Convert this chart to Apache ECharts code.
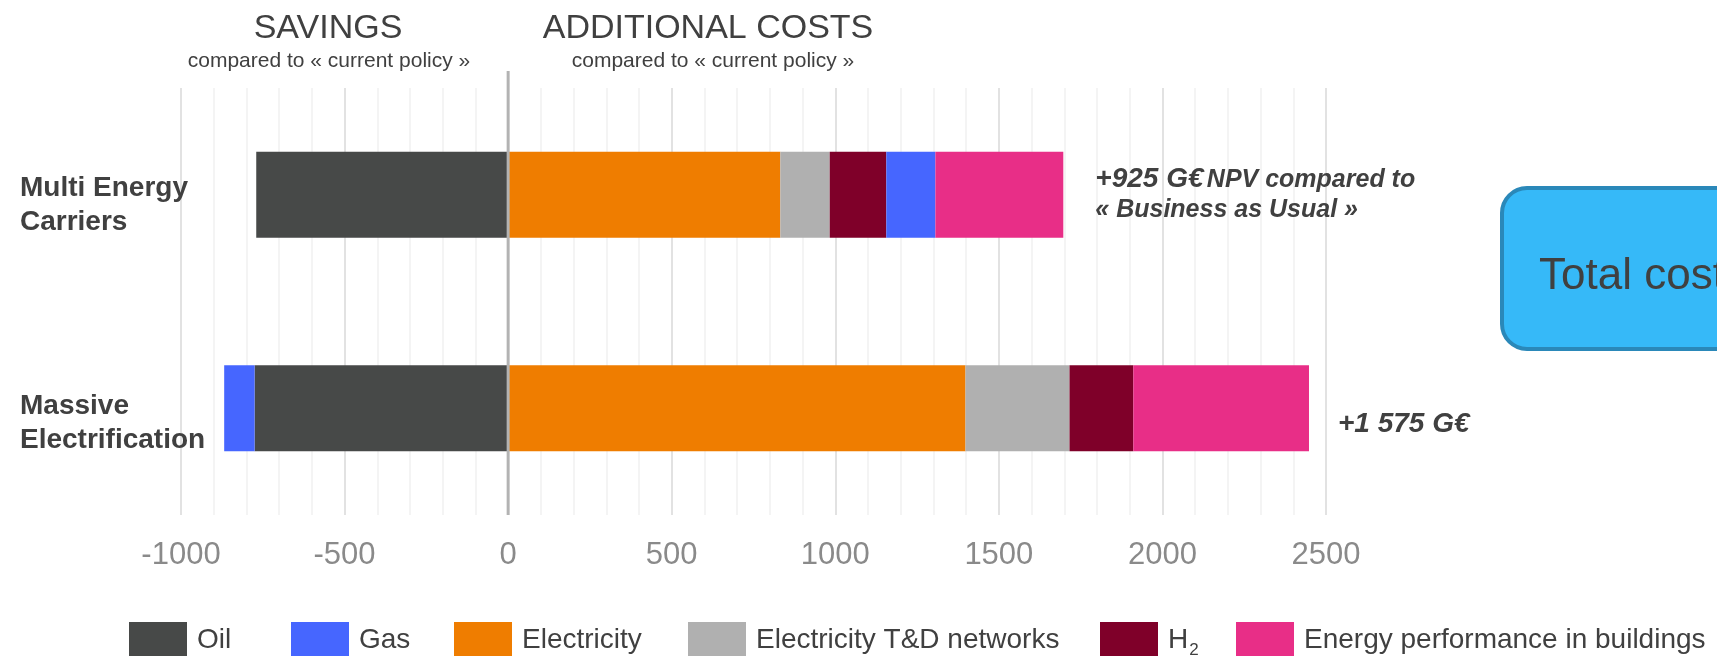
<!DOCTYPE html>
<html>
<head>
<meta charset="utf-8">
<script src="https://cdn.jsdelivr.net/npm/echarts@6/dist/echarts.min.js"></script>
<style>
html,body{margin:0;padding:0;background:#fff;}
#c{width:1717px;height:656px;}
</style>
</head>
<body>
<div id="c"></div>
<script>
// ---- data ----
const categories = ['Multi Energy\nCarriers', 'Massive\nElectrification'];
const oil = [-770, -775];
const gas = [150, -93];
const electricity = [832, 1398];
const tdNetworks = [151, 318];
const h2 = [173, 195];
const buildings = [391, 537];
const totals = ['+925 G€', '+1 575 G€'];
const totalNotes = ['NPV compared to', ''];
const totalNotes2 = ['« Business as Usual »', ''];
const xMin = -1000, xMax = 2500, xStep = 500;
const legendNames = ['Oil', 'Gas', 'Electricity', 'Electricity T&D networks', 'H2', 'Energy performance in buildings'];

const FONT = '"Liberation Sans", Arial, Helvetica, sans-serif';
const TXT = '#404040';
const colors = {
  'Oil': '#474948',
  'Gas': '#4666ff',
  'Electricity': '#ef7d00',
  'Electricity T&D networks': '#b0b0b0',
  'H2': '#7f0029',
  'Energy performance in buildings': '#e82e87'
};

const chart = echarts.init(document.getElementById('c'), null, {renderer: 'canvas'});

function bar(name, data, extra) {
  return Object.assign({
    name: name, type: 'bar', stack: 'total', barWidth: 86,
    itemStyle: {color: colors[name]},
    data: data, emphasis: {disabled: true}
  }, extra || {});
}

const legendLeft = [129, 291, 454, 688, 1100, 1236];
const legends = legendNames.map((n, i) => ({
  data: [n], left: legendLeft[i], top: 622, padding: 0, orient: 'horizontal',
  itemWidth: 58, itemHeight: 36, icon: 'rect', selectedMode: false,
  formatter: function (name) { return name === 'H2' ? '{h|H}{s|2}' : name; },
  textStyle: {
    fontFamily: FONT, fontSize: 28, color: TXT, padding: [0, 0, 0, 5],
    rich: {
      h: {fontFamily: FONT, fontSize: 28, color: TXT},
      s: {fontFamily: FONT, fontSize: 17, color: TXT, padding: [20, 0, 0, 1]}
    }
  }
}));

const option = {
  animation: false,
  backgroundColor: '#ffffff',
  textStyle: {fontFamily: FONT},
  grid: {left: 181, right: 391, top: 88, bottom: 141, containLabel: false},
  legend: legends,
  xAxis: {
    type: 'value', min: xMin, max: xMax, interval: xStep,
    axisLine: {show: false}, axisTick: {show: false},
    axisLabel: {fontFamily: FONT, fontSize: 31, color: '#8a8a8a', margin: 25,
      formatter: function (v) { return String(v); }},
    splitLine: {show: true, lineStyle: {color: '#e2e2e2', width: 2}},
    minorTick: {show: false, splitNumber: 5},
    minorSplitLine: {show: true, lineStyle: {color: '#f1f1f1', width: 1.5}}
  },
  yAxis: {
    type: 'category', data: categories, inverse: true,
    axisLine: {show: false}, axisTick: {show: false},
    axisLabel: {show: false}
  },
  series: [
    bar('Oil', oil),
    bar('Electricity', electricity),
    bar('Electricity T&D networks', tdNetworks),
    bar('H2', h2),
    bar('Gas', gas),
    bar('Energy performance in buildings', buildings.map((v, i) => ({
      value: v,
      label: i === 0 ? {offset: [0, 0], distance: 32} : {offset: [0, 16], distance: 29}
    })), {
      label: {
        show: true, position: 'right', distance: 32,
        formatter: function (p) {
          const i = p.dataIndex;
          let s = '{a|' + totals[i] + '}';
          if (totalNotes[i]) s += ' {b|' + totalNotes[i] + '}\n{b|' + totalNotes2[i] + '}';
          return s;
        },
        rich: {
          a: {fontFamily: FONT, fontSize: 28, fontWeight: 'bold', fontStyle: 'italic', color: TXT, lineHeight: 30},
          b: {fontFamily: FONT, fontSize: 25, fontWeight: 'bold', fontStyle: 'italic', color: TXT, lineHeight: 30}
        }
      }
    })
  ],
  graphic: {
    elements: [
      {id: 't1', type: 'text', x: 328, y: 29, style: {text: 'SAVINGS', font: '34px ' + FONT, fill: TXT, align: 'center', verticalAlign: 'middle'}},
      {id: 't2', type: 'text', x: 708, y: 29, style: {text: 'ADDITIONAL COSTS', font: '34px ' + FONT, fill: TXT, align: 'center', verticalAlign: 'middle'}},
      {id: 's1', type: 'text', x: 329, y: 61, style: {text: 'compared to « current policy »', font: '21px ' + FONT, fill: TXT, align: 'center', verticalAlign: 'middle'}},
      {id: 's2', type: 'text', x: 713, y: 61, style: {text: 'compared to « current policy »', font: '21px ' + FONT, fill: TXT, align: 'center', verticalAlign: 'middle'}},
      {id: 'box', type: 'rect', shape: {x: 1502, y: 188, width: 280, height: 161, r: 25}, style: {fill: '#36b9f8', stroke: '#2a88b9', lineWidth: 4}},
      {id: 'boxt', type: 'text', x: 1539, y: 277, style: {text: 'Total cost', font: '44px ' + FONT, fill: TXT, align: 'left', verticalAlign: 'middle'}}
    ]
  }
};

chart.setOption(option);

const x0 = chart.convertToPixel({xAxisIndex: 0}, 0);
const extra = [
  {id: 'zero', type: 'line', z: 100, shape: {x1: x0, y1: 71, x2: x0, y2: 515}, style: {stroke: '#b3b3b3', lineWidth: 3}}
];
const catOffset = [11, 15];
categories.forEach(function (c, i) {
  const yc = chart.convertToPixel({yAxisIndex: 0}, c);
  extra.push({
    id: 'cat' + i, type: 'text', z: 100, x: 20, y: yc + catOffset[i],
    style: {text: c, font: 'bold 28px ' + FONT, fill: TXT, align: 'left', verticalAlign: 'middle', lineHeight: 34}
  });
});
chart.setOption({graphic: {elements: extra}});
</script>
</body>
</html>
